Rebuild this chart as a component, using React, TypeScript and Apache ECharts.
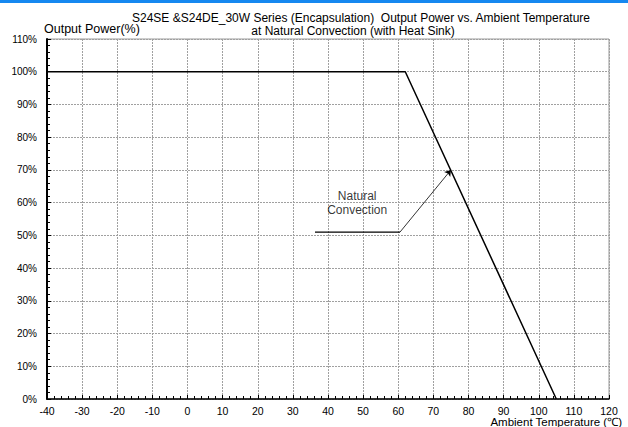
import React, { useEffect, useRef } from "react";
import * as echarts from "echarts";

const titleLine1 = "S24SE &S24DE_30W Series (Encapsulation)  Output Power vs. Ambient Temperature";
const titleLine2 = "at Natural Convection (with Heat Sink)";
const yAxisName = "Output Power(%)";
const xAxisName = "Ambient Temperature (\u2103)";

const xTicks = [-40, 120, 10]; // min, max, interval
const yTicks = [0, 110, 10];

const curveTemps = [-40, 62, 105];
const curvePower = [100, 100, 0];

const leaderTemps = [36.3, 60.5];
const leaderPower = [51, 51];
const arrowTip = [75, 70];
const labelPoint = [48.3, 60];
const labelText = "Natural\nConvection";

const FONT = "'Liberation Sans', Arial, sans-serif";

export default function App() {
  const ref = useRef<HTMLDivElement>(null);
  useEffect(() => {
    if (!ref.current) return;
    const chart = echarts.init(ref.current, null, { renderer: "svg" });
    const curve = curveTemps.map((t, i) => [t, curvePower[i]]);
    const leader = leaderTemps.map((t, i) => [t, leaderPower[i]]);
    chart.setOption({
      animation: false,
      backgroundColor: "#ffffff",
      textStyle: { fontFamily: FONT },
      grid: {
        left: 47,
        right: 19,
        top: 39,
        bottom: 28,
        show: true,
        borderColor: "#9a9a9a",
        borderWidth: 1,
        backgroundColor: "transparent",
      },
      graphic: [
        { type: "rect", shape: { x: 0, y: 0, width: 628, height: 3 }, style: { fill: "#1688f0" }, silent: true },
        {
          type: "text",
          x: 361,
          y: 18,
          style: { text: titleLine1, font: `12px ${FONT}`, fill: "#000", textAlign: "center", textVerticalAlign: "middle" },
        },
        {
          type: "text",
          x: 353,
          y: 31,
          style: { text: titleLine2, font: `12px ${FONT}`, fill: "#000", textAlign: "center", textVerticalAlign: "middle" },
        },
        {
          type: "text",
          x: 44,
          y: 29,
          style: { text: yAxisName, font: `12.5px ${FONT}`, fill: "#000", textAlign: "left", textVerticalAlign: "middle" },
        },
        {
          type: "text",
          x: 622,
          y: 422,
          style: { text: xAxisName, font: `11.5px ${FONT}`, fill: "#000", textAlign: "right", textVerticalAlign: "middle" },
        },
      ],
      xAxis: {
        type: "value",
        min: xTicks[0],
        max: xTicks[1],
        interval: xTicks[2],
        axisLine: { show: true, onZero: false, lineStyle: { color: "#000", width: 1.5 } },
        axisTick: { show: true, inside: true, length: 4, lineStyle: { color: "#000" } },
        minorTick: { show: true, splitNumber: 5, length: 3, lineStyle: { color: "#000" } },
        axisLabel: { color: "#000", fontSize: 10.5, margin: 6, fontFamily: FONT },
        splitLine: { show: true, lineStyle: { color: "#a0a0a0", type: [2, 1], width: 1 } },
      },
      yAxis: {
        type: "value",
        min: yTicks[0],
        max: yTicks[1],
        interval: yTicks[2],
        axisLine: { show: true, onZero: false, lineStyle: { color: "#000", width: 2 } },
        axisTick: { show: true, inside: true, length: 4, lineStyle: { color: "#000" } },
        minorTick: { show: true, splitNumber: 5, length: 3, lineStyle: { color: "#000" } },
        axisLabel: { color: "#000", fontSize: 10, margin: 10, formatter: "{value}%", fontFamily: FONT },
        splitLine: { show: true, lineStyle: { color: "#a0a0a0", type: [2, 1], width: 1 } },
      },
      series: [
        {
          type: "line",
          data: curve,
          showSymbol: false,
          symbol: "none",
          lineStyle: { color: "#000", width: 1.5 },
          z: 5,
        },
        {
          type: "line",
          data: leader,
          showSymbol: false,
          symbol: "none",
          lineStyle: { color: "#000", width: 1.2 },
          markLine: {
            silent: true,
            symbol: ["none", "arrow"],
            symbolSize: 6,
            label: { show: false },
            lineStyle: { color: "#000", width: 0.8, type: "solid" },
            data: [[{ coord: leader[leader.length - 1] }, { coord: arrowTip }]],
          },
          z: 4,
        },
        {
          type: "scatter",
          data: [labelPoint],
          symbolSize: 0,
          silent: true,
          label: {
            show: true,
            position: "inside",
            formatter: labelText,
            color: "#000",
            fontSize: 12,
            lineHeight: 14,
            fontFamily: FONT,
          },
        },
      ],
    });
    return () => chart.dispose();
  }, []);
  return <div ref={ref} style={{ position: "fixed", left: 0, top: 0, width: 628, height: 427 }} />;
}
